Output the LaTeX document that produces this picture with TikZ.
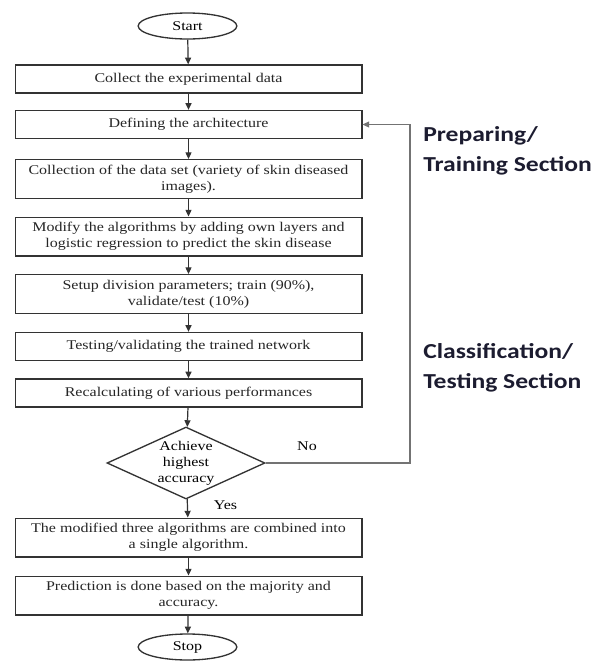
\documentclass[tikz,border=0pt]{standalone}
\usepackage{fontspec}
\setmainfont{Liberation Serif}[FakeStretch=1.2]
\newfontfamily\sectionfont{Carlito}[FakeStretch=1.2]
\usepackage{tikz}
\usetikzlibrary{shapes.geometric, arrows.meta, positioning}
\usepackage{xcolor}
\definecolor{sectiontext}{RGB}{28,28,48}

\begin{document}
\begin{tikzpicture}[x=0.75pt, y=-0.75pt,
  stepbox/.style={rectangle, draw=black!80, line width=1pt, fill=white, minimum width=260pt, minimum height=21pt, inner sep=1pt, align=center, font=\fontsize{10}{12}\selectfont, text=black!85},
  twoline/.style={minimum height=29pt},
  terminal/.style={ellipse, draw=black!80, line width=1pt, minimum width=74pt, minimum height=19.5pt, inner sep=0pt, font=\fontsize{10}{12}\selectfont},
  decision/.style={diamond, draw=black!80, line width=1pt, minimum width=118.5pt, minimum height=54pt, inner sep=-6pt, aspect=2.2, align=center, font=\fontsize{10}{12}\selectfont},
  arrow/.style={-{Triangle[length=5pt, width=4.5pt]}, line width=0.9pt, draw=black!80},
  section/.style={anchor=north west, inner sep=0pt, align=left, text=sectiontext, font=\sectionfont\bfseries\fontsize{16}{22.5}\selectfont}
]
  \useasboundingbox (0,0) rectangle (595,665);

  % Start / stop
  \node[terminal] (start) at (187.5,26) {Start};
  \node[terminal] (stop) at (187.5,647) {Stop};

  % Steps
  \node[stepbox] (collect) at (188.5,79) {Collect the experimental data};
  \node[stepbox] (arch) at (188.5,124.5) {Defining the architecture};
  \node[stepbox, twoline] (dataset) at (188.5,179) {Collection of the data set (variety of skin diseased\\images).};
  \node[stepbox, twoline] (modify) at (188.5,236.5) {Modify the algorithms by adding own layers and\\logistic regression\ to predict the skin disease};
  \node[stepbox, twoline] (setup) at (188.5,294) {Setup division parameters; train (90\%),\\validate/test (10\%)};
  \node[stepbox] (testing) at (188.5,346.5) {Testing/validating the trained network};
  \node[stepbox] (recalc) at (188.5,393) {Recalculating\ of various performances};

  % Decision
  \node[decision] (acc) at (186,463) {Achieve\\highest\\accuracy};

  \node[stepbox, twoline] (combine) at (188.5,537.5) {The modified three algorithms are combined into\\a single algorithm.};
  \node[stepbox, twoline] (predict) at (188.5,595.5) {Prediction is done based on the majority and\\accuracy.};

  % Flow
  \draw[arrow] (start) -- (collect);
  \draw[arrow] (collect) -- (arch);
  \draw[arrow] (arch) -- (dataset);
  \draw[arrow] (dataset) -- (modify);
  \draw[arrow] (modify) -- (setup);
  \draw[arrow] (setup) -- (testing);
  \draw[arrow] (testing) -- (recalc);
  \draw[arrow] (recalc) -- (acc);
  \draw[arrow] (acc) -- node[right=16pt, pos=0.35, font=\fontsize{10}{12}\selectfont] {Yes} (combine);
  \draw[arrow] (combine) -- (predict);
  \draw[arrow] (predict) -- (stop);

  % Loop back
  \coordinate (loop) at (410,463);
  \draw[arrow, draw=black!55, line width=0.8pt] (acc.east) -- (loop) |- (arch.east);
  \node[font=\fontsize{10}{12}\selectfont] (no) at (307,446) {No};

  % Section labels
  \node[section] (train) at (423,126) {Preparing/\\Training Section};
  \node[section] (classify) at (423,343) {Classification/\\Testing Section};
\end{tikzpicture}
\end{document}
